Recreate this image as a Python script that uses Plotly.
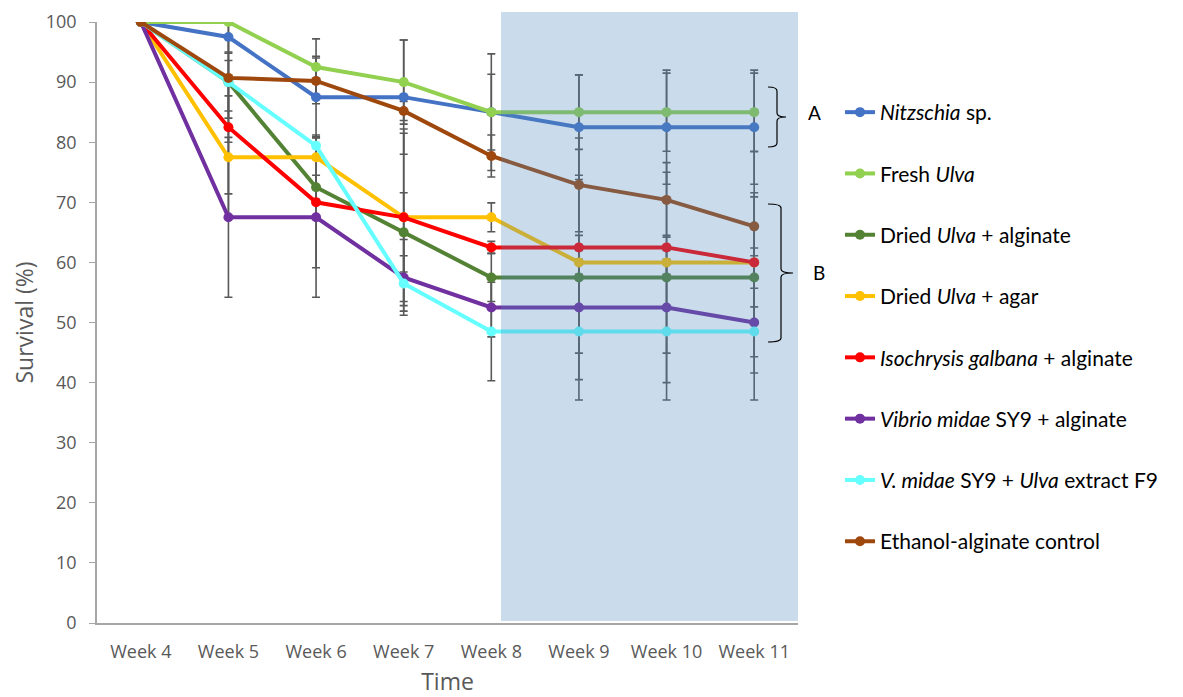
import plotly.graph_objects as go

weeks = ["Week 4", "Week 5", "Week 6", "Week 7", "Week 8", "Week 9", "Week 10", "Week 11"]

names = [
    "<i>Nitzschia</i> sp.",
    "Fresh <i>Ulva</i>",
    "Dried <i>Ulva</i> + alginate",
    "Dried <i>Ulva</i> + agar",
    "<i>Isochrysis galbana</i> + alginate",
    "<i>Vibrio midae</i> SY9 + alginate",
    "<i>V. midae</i> SY9 + <i>Ulva</i> extract F9",
    "Ethanol-alginate control",
]

colors = ["#4472C4", "#92D050", "#548235", "#FFC000", "#FF0000", "#7030A0", "#66FFFF", "#9E480E"]

# mean survival (%) per treatment
nitzschia = [100, 97.5, 87.5, 87.5, 85, 82.5, 82.5, 82.5]
fresh_ulva = [100, 100, 92.5, 90, 85, 85, 85, 85]
dried_ulva_alginate = [100, 90, 72.5, 65, 57.5, 57.5, 57.5, 57.5]
dried_ulva_agar = [100, 77.5, 77.5, 67.5, 67.5, 60, 60, 60]
isochrysis = [100, 82.5, 70, 67.5, 62.5, 62.5, 62.5, 60]
vibrio = [100, 67.5, 67.5, 57.5, 52.5, 52.5, 52.5, 50]
vibrio_ulva_f9 = [100, 90, 79.4, 56.5, 48.5, 48.5, 48.5, 48.5]
ethanol_control = [100, 90.7, 90.2, 85.2, 77.7, 72.9, 70.4, 66]

# standard deviation per treatment
sd_nitzschia = [0, 2.5, 6.8, 9.5, 6.3, 8.7, 9.5, 9.5]
sd_fresh_ulva = [0, 0, 4.7, 7, 9.7, 6.2, 6.5, 6.5]
sd_dried_ulva_alginate = [0, 4.8, 2, 6.6, 4, 17, 17.5, 4.9]
sd_dried_ulva_agar = [0, 10.2, 0, 14, 2.4, 2, 2, 18.4]
sd_isochrysis = [0, 11.1, 10.9, 14.7, 1, 2, 2, 11.6]
sd_vibrio = [0, 13.3, 13.3, 6.3, 4.9, 7.6, 7.6, 5.7]
sd_vibrio_ulva_f9 = [0, 10, 1.8, 4.6, 8.2, 11.4, 11.4, 11.4]
sd_ethanol_control = [0, 6.7, 3.8, 1.6, 3.5, 7.8, 6.2, 4.9]

means = [nitzschia, fresh_ulva, dried_ulva_alginate, dried_ulva_agar,
         isochrysis, vibrio, vibrio_ulva_f9, ethanol_control]
sds = [sd_nitzschia, sd_fresh_ulva, sd_dried_ulva_alginate, sd_dried_ulva_agar,
       sd_isochrysis, sd_vibrio, sd_vibrio_ulva_f9, sd_ethanol_control]

FONT = "Lato"
AXIS_FONT = "Open Sans"
GREY = "#595959"

fig = go.Figure()

# error bars first so every line sits above them
for m, s in zip(means, sds):
    fig.add_trace(go.Scatter(
        x=weeks, y=m, mode="markers",
        marker=dict(size=1, color="rgba(0,0,0,0)"),
        error_y=dict(type="data", array=s, visible=True, color=GREY, thickness=1.6, width=4),
        showlegend=False, hoverinfo="skip",
    ))

for i, (name, m, c) in enumerate(zip(names, means, colors)):
    fig.add_trace(go.Scatter(
        x=weeks, y=m, name=name, mode="lines+markers",
        line=dict(color=c, width=4),
        marker=dict(color=c, size=10),
        legendgroup=f"g{i}",
    ))

L, R, T, B = 97, 385, 22, 74
W, H = 1183, 697
pw, ph = W - L - R, H - T - B


def px(x):
    return (x - L) / pw


def py(y):
    return (H - B - y) / ph


shapes = []
# weeks 9-11 highlight band
shapes.append(dict(type="rect", xref="paper", yref="paper",
                   x0=px(501), x1=px(798), y0=py(621), y1=py(12),
                   fillcolor="rgba(78,135,188,0.3)", line=dict(width=0), layer="above"))


def brace(xv, xtip, xl, ytop, ymid, ybot):
    r = 4
    p = (f"M {px(xl)},{py(ytop)} Q {px(xv)},{py(ytop)} {px(xv)},{py(ytop + r)} "
         f"L {px(xv)},{py(ymid - r)} Q {px(xv)},{py(ymid)} {px(xtip)},{py(ymid)} "
         f"Q {px(xv)},{py(ymid)} {px(xv)},{py(ymid + r)} "
         f"L {px(xv)},{py(ybot - r)} Q {px(xv)},{py(ybot)} {px(xl)},{py(ybot)}")
    return dict(type="path", xref="paper", yref="paper", path=p,
                line=dict(color="black", width=1.2), layer="above")


shapes.append(brace(777, 786, 768, 87, 117, 147))
shapes.append(brace(781, 793, 768, 204, 273, 342))

annotations = [
    dict(x=px(814), y=py(113), xref="paper", yref="paper", text="A", showarrow=False,
         xanchor="center", yanchor="middle",
         font=dict(family=FONT, size=19, color="black")),
    dict(x=px(819), y=py(272), xref="paper", yref="paper", text="B", showarrow=False,
         xanchor="center", yanchor="middle",
         font=dict(family=FONT, size=19, color="black")),
]

fig.update_layout(
    width=W, height=H,
    margin=dict(l=L, r=R, t=T, b=B),
    paper_bgcolor="white", plot_bgcolor="white",
    shapes=shapes, annotations=annotations,
    legend=dict(x=px(840), y=py(92), xanchor="left", yanchor="top",
                font=dict(family=FONT, size=21, color="black"),
                tracegroupgap=31, bgcolor="rgba(0,0,0,0)"),
    xaxis=dict(
        type="category", showgrid=False, showline=True, linecolor="#A6A6A6", linewidth=1.5,
        ticks="", ticklabelstandoff=12, tickfont=dict(family=AXIS_FONT, size=18, color=GREY),
        title=dict(text="Time", font=dict(family=AXIS_FONT, size=23, color=GREY), standoff=21),
        range=[-0.5, 7.5], automargin=False,
    ),
    yaxis=dict(
        range=[0, 100], dtick=10, showgrid=False, zeroline=False,
        showline=True, linecolor="#A6A6A6", linewidth=1.5,
        ticks="outside", ticklen=6, tickcolor="#A6A6A6", ticklabelstandoff=9,
        tickfont=dict(family=AXIS_FONT, size=18, color=GREY),
        title=dict(text="Survival (%)", font=dict(family=AXIS_FONT, size=23, color=GREY), standoff=6),
        automargin=False,
    ),
)

fig.write_html("out.html")
